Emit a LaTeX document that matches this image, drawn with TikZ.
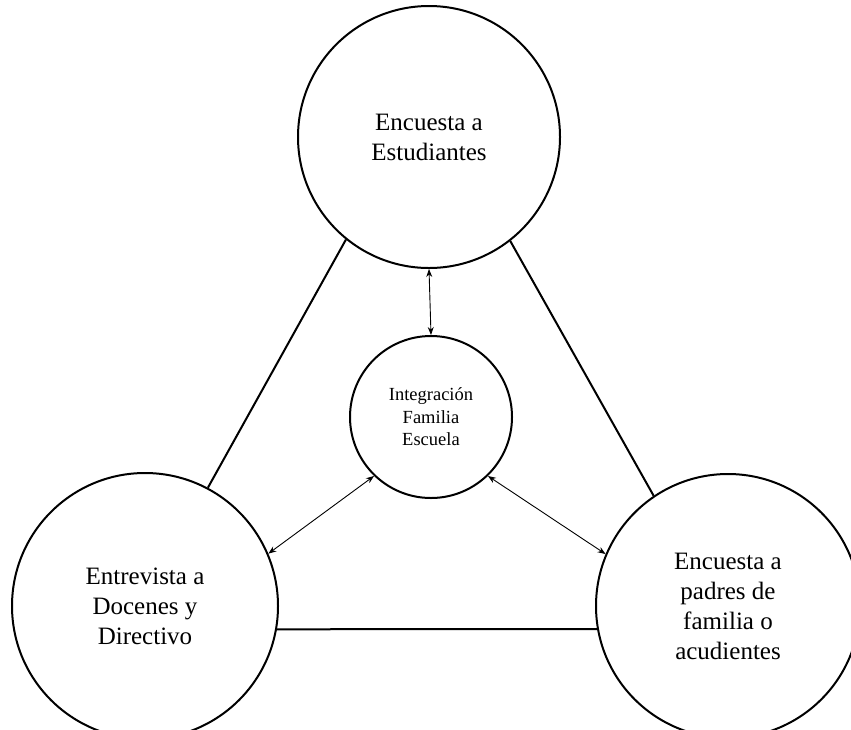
\documentclass[tikz,border=0pt]{standalone}
\usepackage{fontspec}
\setmainfont{Liberation Serif}
\usetikzlibrary{arrows.meta}
\begin{document}
\begin{tikzpicture}[x=1pt,y=-1pt,
  bigcirc/.style={circle,draw,line width=2pt,inner sep=0pt,align=center,
    font=\fontsize{25}{30}\selectfont},
  midcirc/.style={circle,draw,line width=2pt,inner sep=0pt,align=center,
    font=\fontsize{18.5}{22.5}\selectfont},
  link/.style={line width=2pt},
  twoway/.style={line width=0.9pt,{Stealth[length=8pt,width=6pt]}-{Stealth[length=8pt,width=6pt]}}]
\useasboundingbox (0,0) rectangle (851,729);
\clip (0,0) rectangle (851,729);
\fill[white] (0,0) rectangle (851,729);
\node[bigcirc,minimum size=262pt] (top) at (429,137) {Encuesta a\\Estudiantes};
\node[midcirc,minimum size=162pt] (mid) at (431,417) {Integración\\Familia\\Escuela};
\node[bigcirc,minimum size=266pt] (left) at (145,606) {Entrevista a\\Docenes y\\Directivo};
\node[bigcirc,minimum size=264pt] (right) at (728,606) {Encuesta a\\padres de\\familia o\\acudientes};
\draw[link] (top.231.5) -- (left.62);
\draw[link] (top.308.9) -- (right.124.5);
\draw[link] (left.-10.8) -- (right.190.8);
\draw[twoway] (top.south) -- (mid.north);
\draw[twoway] (mid.226) -- (left.23);
\draw[twoway] (mid.314.5) -- (right.157);
\end{tikzpicture}
\end{document}
